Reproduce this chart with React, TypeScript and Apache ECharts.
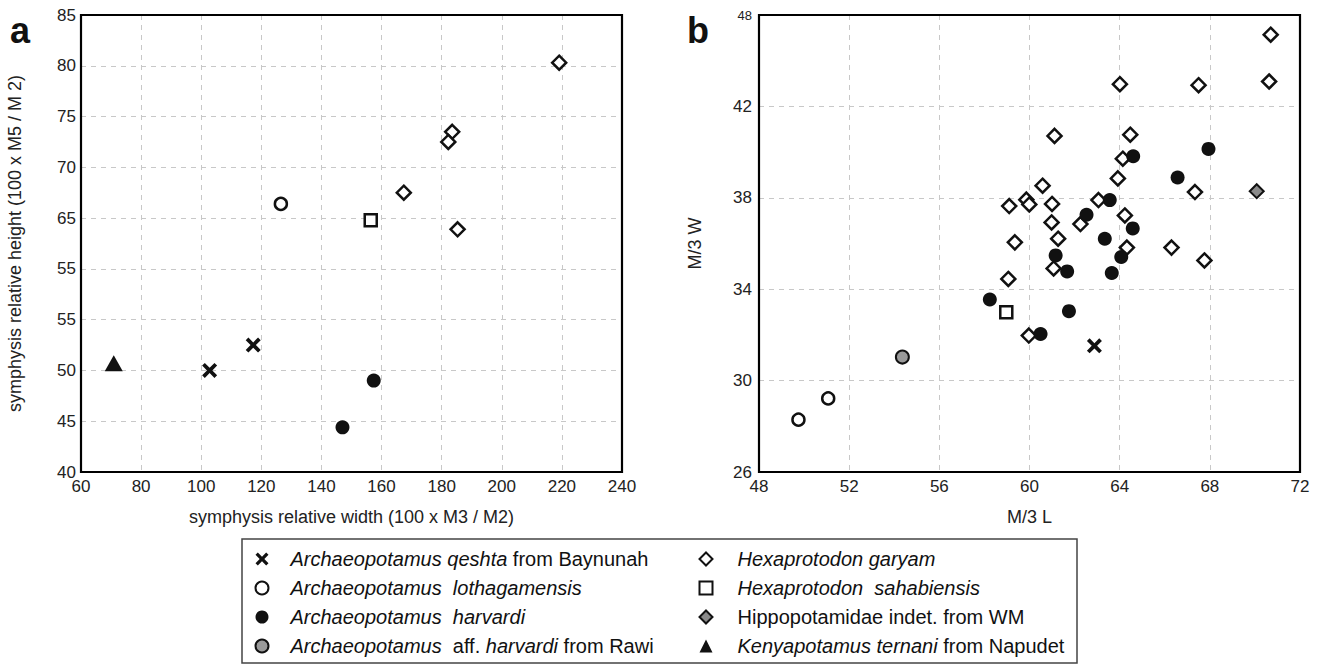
import React, { useEffect, useRef } from "react";
import * as echarts from "echarts";

const FONT = '"Liberation Sans", Arial, Helvetica, sans-serif';

// ---------- Panel a: symphysis relative width / height ----------
const aQeshta = [[117.3, 52.5], [102.8, 50.0]];
const aLothagamensis = [[126.5, 66.4]];
const aHarvardi = [[157.4, 49.0], [147.0, 44.4]];
const aGaryam = [[219.1, 80.3], [183.5, 73.5], [182.2, 72.5], [167.4, 67.5], [185.3, 63.9]];
const aSahabiensis = [[156.4, 64.8]];
const aTernani = [[70.9, 50.7]];

// ---------- Panel b: M/3 L vs M/3 W ----------
const bGaryam = [
  [70.7, 45.14], [70.63, 43.09], [64.01, 42.97], [67.5, 42.93], [61.11, 40.71],
  [64.47, 40.76], [64.14, 39.71], [63.92, 38.85], [60.58, 38.53], [67.34, 38.25],
  [59.86, 37.92], [59.99, 37.71], [59.1, 37.64], [61.0, 37.73], [63.06, 37.9],
  [64.23, 37.23], [60.98, 36.92], [62.26, 36.85], [61.27, 36.21], [59.35, 36.05],
  [64.32, 35.82], [66.3, 35.82], [67.76, 35.26], [61.07, 34.91], [59.06, 34.45],
  [59.97, 31.97],
];
const bHarvardi = [
  [67.94, 40.14], [64.6, 39.82], [66.57, 38.89], [63.56, 37.9], [62.53, 37.26],
  [64.58, 36.66], [63.34, 36.21], [61.16, 35.48], [64.07, 35.41], [61.67, 34.78],
  [63.65, 34.71], [58.24, 33.55], [61.75, 33.04], [60.49, 32.04],
];
const bSahabiensis = [[58.97, 32.99]];
const bQeshta = [[62.88, 31.52]];
const bAffHarvardi = [[54.36, 31.03]];
const bLothagamensis = [[51.07, 29.22], [49.75, 28.29]];
const bIndet = [[70.08, 38.29]];

// ---------- Tick labels (as printed in the figure) ----------
const xTicksA = ["60", "80", "100", "120", "140", "160", "180", "200", "220", "240"];
const yTicksA = ["40", "45", "50", "55", "55", "65", "70", "75", "80", "85"];
const xTicksB = ["48", "52", "56", "60", "64", "68", "72"];
const yTicksB = ["26", "30", "34", "38", "42", "48"];

// ---------- Species / legend ----------
const N_QESHTA = "Archaeopotamus qeshta from Baynunah";
const N_LOTH = "Archaeopotamus lothagamensis";
const N_HARV = "Archaeopotamus harvardi";
const N_AFF = "Archaeopotamus aff. harvardi from Rawi";
const N_GARY = "Hexaprotodon garyam";
const N_SAHA = "Hexaprotodon sahabiensis";
const N_INDET = "Hippopotamidae indet. from WM";
const N_TERN = "Kenyapotamus ternani from Napudet";

const legendCol1 = [N_QESHTA, N_LOTH, N_HARV, N_AFF];
const legendCol2 = [N_GARY, N_SAHA, N_INDET, N_TERN];

const legendRich: Record<string, string> = {
  [N_QESHTA]: "{i|Archaeopotamus qeshta} from Baynunah",
  [N_LOTH]: "{i|Archaeopotamus  lothagamensis}",
  [N_HARV]: "{i|Archaeopotamus  harvardi}",
  [N_AFF]: "{i|Archaeopotamus}  aff. {i|harvardi} from Rawi",
  [N_GARY]: "{i|Hexaprotodon garyam}",
  [N_SAHA]: "{i|Hexaprotodon  sahabiensis}",
  [N_INDET]: "Hippopotamidae indet. from WM",
  [N_TERN]: "{i|Kenyapotamus ternani} from Napudet",
};

const CROSS = "path://M2.5 0 L7 4.5 L11.5 0 L14 2.5 L9.5 7 L14 11.5 L11.5 14 L7 9.5 L2.5 14 L0 11.5 L4.5 7 L0 2.5 Z";

const styles: Record<string, any> = {
  [N_QESHTA]: { symbol: CROSS, symbolSize: 15, itemStyle: { color: "#111", opacity: 1 } },
  [N_LOTH]: { symbol: "circle", symbolSize: 12, itemStyle: { color: "#fff", borderColor: "#111", borderWidth: 2.5, opacity: 1 } },
  [N_HARV]: { symbol: "circle", symbolSize: 14, itemStyle: { color: "#111", opacity: 1 } },
  [N_AFF]: { symbol: "circle", symbolSize: 13, itemStyle: { color: "#9a9a9a", borderColor: "#111", borderWidth: 2, opacity: 1 } },
  [N_GARY]: { symbol: "diamond", symbolSize: 14, itemStyle: { color: "#fff", borderColor: "#111", borderWidth: 2.5, opacity: 1 } },
  [N_SAHA]: { symbol: "rect", symbolSize: 12, itemStyle: { color: "#fff", borderColor: "#111", borderWidth: 2.5, opacity: 1 } },
  [N_INDET]: { symbol: "diamond", symbolSize: 14, itemStyle: { color: "#8a8a8a", borderColor: "#111", borderWidth: 2, opacity: 1 } },
  [N_TERN]: { symbol: "triangle", symbolSize: [18, 16], itemStyle: { color: "#111", opacity: 1 } },
};

function mk(name: string, data: number[][], idx: number) {
  return {
    type: "scatter",
    name,
    xAxisIndex: idx,
    yAxisIndex: idx,
    data,
    ...styles[name],
    emphasis: { disabled: true },
  };
}

const gridLine = { show: true, lineStyle: { color: "#c8c8c8", type: [5, 5], width: 1 } };
const labelBase = { color: "#222", fontSize: 17, fontFamily: FONT, margin: 6, showMinLabel: true, showMaxLabel: true };
const nameStyle = { color: "#222", fontSize: 18, fontFamily: FONT };

const GRID_A = { left: 81, top: 15, width: 541, height: 457 };
const GRID_B = { left: 759, top: 15, width: 541, height: 457 };

export default function App() {
  const ref = useRef<HTMLDivElement>(null);
  useEffect(() => {
    if (!ref.current) return;
    const chart = echarts.init(ref.current, undefined, { renderer: "svg" });
    const legendCommon = {
      orient: "vertical",
      padding: 0,
      itemWidth: 13,
      itemHeight: 13,
      itemGap: 9,
      selectedMode: false,
      formatter: (n: string) => legendRich[n] || n,
    };
    const richI = { i: { fontStyle: "italic", fontSize: 20, fontFamily: FONT, color: "#111" } };
    const frame = (g: any) => ({
      type: "rect",
      z: 100,
      silent: true,
      shape: { x: g.left, y: g.top, width: g.width, height: g.height },
      style: { fill: "none", stroke: "#000", lineWidth: 2.2 },
    });
    chart.setOption({
      animation: false,
      backgroundColor: "#fff",
      grid: [GRID_A, GRID_B],
      xAxis: [
        {
          gridIndex: 0, type: "value", min: 60, max: 240, interval: 20,
          axisLine: { show: false }, axisTick: { show: false }, splitLine: gridLine,
          axisLabel: { ...labelBase, formatter: (v: number) => xTicksA[Math.round((v - 60) / 20)] ?? "" },
          name: "symphysis relative width (100 x M3 / M2)", nameLocation: "middle", nameGap: 36, nameTextStyle: nameStyle,
        },
        {
          gridIndex: 1, type: "value", min: 48, max: 72, interval: 4,
          axisLine: { show: false }, axisTick: { show: false }, splitLine: gridLine,
          axisLabel: { ...labelBase, formatter: (v: number) => xTicksB[Math.round((v - 48) / 4)] ?? "" },
          name: "M/3 L", nameLocation: "middle", nameGap: 36, nameTextStyle: nameStyle,
        },
      ],
      yAxis: [
        {
          gridIndex: 0, type: "value", min: 40, max: 85, interval: 5,
          axisLine: { show: false }, axisTick: { show: false }, splitLine: gridLine,
          axisLabel: { ...labelBase, margin: 5, formatter: (v: number) => yTicksA[Math.round((v - 40) / 5)] ?? "" },
          name: "symphysis relative height (100 x M5 / M 2)", nameLocation: "middle", nameGap: 57, nameTextStyle: nameStyle,
        },
        {
          gridIndex: 1, type: "value", min: 26, max: 46, interval: 4,
          axisLine: { show: false }, axisTick: { show: false }, splitLine: gridLine,
          axisLabel: {
            ...labelBase, margin: 7,
            formatter: (v: number) => {
              const i = Math.round((v - 26) / 4);
              const s = yTicksB[i] ?? "";
              return i === yTicksB.length - 1 ? "{s|" + s + "}" : s;
            },
            rich: { s: { fontSize: 13, fontFamily: FONT, color: "#222" } },
          },
          name: "M/3 W", nameLocation: "middle", nameGap: 55, nameTextStyle: nameStyle,
        },
      ],
      legend: [
        {
          ...legendCommon, data: legendCol1, left: 254.5, top: 549,
          textStyle: { fontSize: 20, lineHeight: 20, fontFamily: FONT, color: "#111", padding: [0, 0, 0, 17], rich: richI },
        },
        {
          ...legendCommon, data: legendCol2, left: 698.5, top: 549,
          textStyle: { fontSize: 20, lineHeight: 20, fontFamily: FONT, color: "#111", padding: [0, 0, 0, 20], rich: richI },
        },
      ],
      graphic: [
        frame(GRID_A),
        frame(GRID_B),
        { type: "rect", shape: { x: 242, y: 539, width: 835, height: 124 }, style: { fill: "none", stroke: "#444", lineWidth: 1.5 }, silent: true },
        { type: "text", x: 10, y: 30.5, style: { text: "a", fontSize: 36, fontWeight: "bold", fontFamily: FONT, fill: "#111", verticalAlign: "middle" }, silent: true },
        { type: "text", x: 687, y: 30.5, style: { text: "b", fontSize: 36, fontWeight: "bold", fontFamily: FONT, fill: "#111", verticalAlign: "middle" }, silent: true },
      ],
      series: [
        mk(N_GARY, aGaryam, 0),
        mk(N_SAHA, aSahabiensis, 0),
        mk(N_LOTH, aLothagamensis, 0),
        mk(N_HARV, aHarvardi, 0),
        mk(N_QESHTA, aQeshta, 0),
        mk(N_TERN, aTernani, 0),
        mk(N_GARY, bGaryam, 1),
        mk(N_INDET, bIndet, 1),
        mk(N_HARV, bHarvardi, 1),
        mk(N_SAHA, bSahabiensis, 1),
        mk(N_QESHTA, bQeshta, 1),
        mk(N_AFF, bAffHarvardi, 1),
        mk(N_LOTH, bLothagamensis, 1),
      ],
    });
    return () => chart.dispose();
  }, []);
  return <div ref={ref} style={{ position: "absolute", left: 0, top: 0, width: 1327, height: 667 }} />;
}
